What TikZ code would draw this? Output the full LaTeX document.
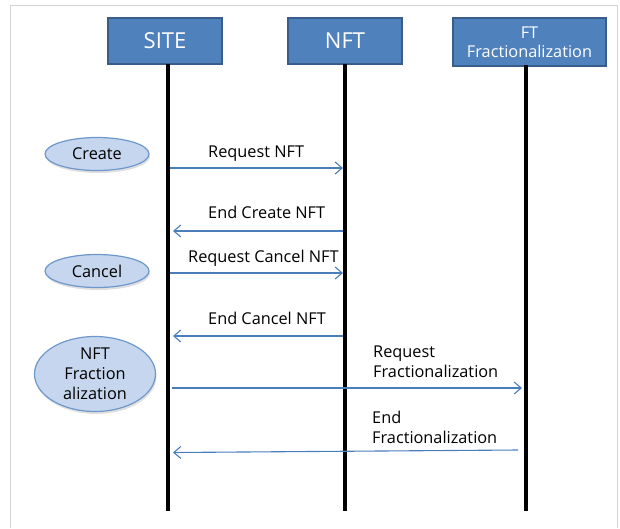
\documentclass[tikz,border=0pt]{standalone}
\usepackage{fontspec}
\setmainfont{Open Sans}
\usetikzlibrary{arrows.meta,shadows,shapes.geometric}
\definecolor{boxfill}{HTML}{4F81BD}
\definecolor{boxedge}{HTML}{385D8A}
\definecolor{ovalfill}{HTML}{C6D6EE}
\definecolor{ovaledge}{HTML}{6E98CC}
\definecolor{msgblue}{HTML}{4A7EBB}
\definecolor{framegray}{HTML}{D4D4D4}
\begin{document}
\begin{tikzpicture}[x=1pt,y=-1pt,
  actor/.style={draw=boxedge, line width=2pt, fill=boxfill, text=white,
    inner sep=0pt, align=center, font=\fontsize{16.3}{19}\selectfont},
  oval/.style={ellipse, draw=ovaledge, line width=1.2pt, fill=ovalfill,
    inner sep=0pt, align=center, font=\fontsize{16.3}{20}\selectfont,
    drop shadow={opacity=0.25, shadow xshift=1pt, shadow yshift=-2.5pt}},
  lifeline/.style={line width=4pt, black},
  msg/.style={draw=msgblue, line width=1.1pt,
    -{Straight Barb[length=7pt, width=12pt, line width=1.1pt]}},
  msglabel/.style={anchor=west, inner sep=0pt, align=left,
    font=\fontsize{16.3}{20}\selectfont}]
  \useasboundingbox (0,0) rectangle (620,528);
  % thin outer frame
  \draw[framegray, line width=1pt] (10.5,528) -- (10.5,5.5) -- (617,5.5) -- (617,528);

  % participants
  \node[actor, minimum width=114pt, minimum height=46pt,
        font=\fontsize{22}{26}\selectfont] (site) at (165,41) {SITE};
  \node[actor, minimum width=114pt, minimum height=46pt,
        font=\fontsize{22}{26}\selectfont] (nft) at (345,41) {NFT};
  \node[actor, minimum width=153pt, minimum height=48pt] (ft) at (529.5,42)
        {FT\\Fractionalization};

  % lifelines
  \coordinate (siteTop) at (168,64);  \coordinate (siteBot) at (168,511);
  \coordinate (nftTop)  at (345,64);  \coordinate (nftBot)  at (345,511);
  \coordinate (ftTop)   at (525.5,65);\coordinate (ftBot)   at (525.5,511);
  \draw[lifeline] (siteTop) -- (siteBot);
  \draw[lifeline] (nftTop) -- (nftBot);
  \draw[lifeline] (ftTop) -- (ftBot);

  % actions on the site side
  \node[oval, minimum width=104pt, minimum height=33pt] (create) at (97,154) {Create};
  \node[oval, minimum width=104pt, minimum height=33pt] (cancel) at (97,271) {Cancel};
  \node[oval, minimum width=121pt, minimum height=75pt] (frac) at (95,374)
        {NFT\\Fraction\\alization};

  % messages
  \coordinate (m1a) at (170,168);  \coordinate (m1b) at (343,168);
  \coordinate (m2a) at (343,231);  \coordinate (m2b) at (173,231);
  \coordinate (m3a) at (170,273);  \coordinate (m3b) at (343,273);
  \coordinate (m4a) at (343,336);  \coordinate (m4b) at (173,336);
  \coordinate (m5a) at (172,388);  \coordinate (m5b) at (522,388);
  \coordinate (m6a) at (518,450);  \coordinate (m6b) at (173,452.5);
  \draw[msg] (m1a) -- (m1b);
  \draw[msg] (m2a) -- (m2b);
  \draw[msg] (m3a) -- (m3b);
  \draw[msg] (m4a) -- (m4b);
  \draw[msg] (m5a) -- (m5b);
  \draw[msg] (m6a) -- (m6b);

  \node[msglabel] (l1) at (208,154) {Request NFT};
  \node[msglabel] (l2) at (208,212) {End Create NFT};
  \node[msglabel] (l3) at (188,258) {Request Cancel NFT};
  \node[msglabel] (l4) at (208,318) {End Cancel NFT};
  \node[msglabel] (l5) at (373,362) {Request\\Fractionalization};
  \node[msglabel] (l6) at (372,427) {End\\Fractionalization};
\end{tikzpicture}
\end{document}
